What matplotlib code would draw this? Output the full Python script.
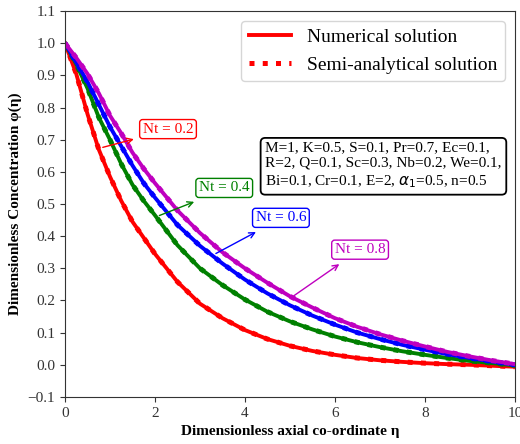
import matplotlib
matplotlib.use("Agg")
import matplotlib.pyplot as plt

plt.rcParams["font.family"] = ["Liberation Serif", "DejaVu Serif"]

# eta grid (finer near the wall)
ETA = [0, 0.25, 0.5, 0.75, 1.0, 1.25, 1.5, 1.75, 2.0, 2.5, 3.0, 3.5, 4.0, 4.5,
       5.0, 5.5, 6.0, 6.5, 7.0, 7.5, 8.0, 8.5, 9.0, 9.5, 10.0]

PHI_NT02 = [1.0, 0.905, 0.78, 0.67, 0.585, 0.51, 0.445, 0.395, 0.345, 0.258,
            0.19, 0.145, 0.108, 0.08, 0.059, 0.043, 0.031, 0.021, 0.014,
            0.009, 0.005, 0.002, 0.0, -0.003, -0.006]
PHI_NT04 = [1.0, 0.935, 0.86, 0.77, 0.70, 0.625, 0.56, 0.51, 0.465, 0.372,
            0.30, 0.248, 0.203, 0.165, 0.135, 0.11, 0.088, 0.07, 0.055,
            0.042, 0.031, 0.021, 0.012, 0.005, -0.002]
PHI_NT06 = [1.0, 0.94, 0.88, 0.81, 0.74, 0.68, 0.62, 0.565, 0.52, 0.435,
            0.37, 0.315, 0.265, 0.222, 0.185, 0.153, 0.125, 0.10, 0.08,
            0.062, 0.047, 0.033, 0.021, 0.01, 0.0]
PHI_NT08 = [1.0, 0.955, 0.905, 0.845, 0.775, 0.72, 0.66, 0.61, 0.565, 0.48,
            0.41, 0.35, 0.30, 0.255, 0.213, 0.178, 0.145, 0.118, 0.095,
            0.075, 0.057, 0.04, 0.026, 0.013, 0.002]

CURVES = [
    ("Nt = 0.2", PHI_NT02, "red"),
    ("Nt = 0.4", PHI_NT04, "green"),
    ("Nt = 0.6", PHI_NT06, "blue"),
    ("Nt = 0.8", PHI_NT08, "m"),
]

# label box centre, arrow tail (on curve), arrow head (near box)
LABELS = [
    ((2.29, 0.733), (0.78, 0.674), (1.59, 0.704)),
    ((3.54, 0.55), (2.04, 0.461), (2.93, 0.51)),
    ((4.80, 0.457), (3.30, 0.342), (4.30, 0.417)),
    ((6.56, 0.358), (5.04, 0.21), (6.15, 0.318)),
]

PARAMS = ("M=1, K=0.5, S=0.1, Pr=0.7, Ec=0.1,\n"
          "R=2, Q=0.1, Sc=0.3, Nb=0.2, We=0.1,\n"
          r"Bi=0.1, Cr=0.1, E=2, $\alpha_1$=0.5, n=0.5")

fig = plt.figure(figsize=(5.2, 4.44), dpi=100)
ax = fig.add_axes([0.125, 0.106, 0.865, 0.869])

for i, (name, phi, color) in enumerate(CURVES):
    ax.plot(ETA, phi, "-", color=color, lw=2.8,
            label="Numerical solution" if i == 0 else None)
    ax.plot(ETA, phi, ":", color=color, lw=3.6,
            label="Semi-analytical solution" if i == 0 else None)

for (name, phi, color), (pos, tail, head) in zip(CURVES, LABELS):
    ax.annotate("", xy=head, xytext=tail,
                arrowprops=dict(arrowstyle="->", color=color, lw=1.0))
    ax.text(pos[0], pos[1], name, color=color, fontsize=11,
            ha="center", va="center",
            bbox=dict(boxstyle="round,pad=0.2", fc="white", ec=color, lw=1.0))

ax.text(7.08, 0.62, PARAMS, fontsize=11, ha="center", va="center",
        multialignment="left", linespacing=1.3,
        bbox=dict(boxstyle="round,pad=0.3", fc="white", ec="black", lw=1.3))

ax.set_xlim(0, 10)
ax.set_ylim(-0.1, 1.1)
ax.set_xticks([0, 2, 4, 6, 8, 10])
ax.set_yticks([round(-0.1 + 0.1 * k, 1) for k in range(13)])
ax.tick_params(labelsize=11, colors="#333333")
for sp in ax.spines.values():
    sp.set_color("#333333")

ax.set_xlabel("Dimensionless axial co-ordinate η", fontsize=11,
              fontweight="bold")
ax.set_ylabel("Dimensionless Concentration φ(η)", fontsize=11,
              fontweight="bold")

ax.legend(loc="upper right", fontsize=14, handlelength=2.2)

fig.savefig("out.png", dpi=100)
